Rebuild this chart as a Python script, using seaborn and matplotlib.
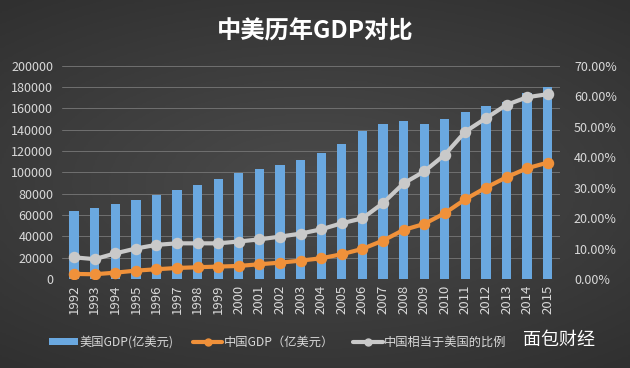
import numpy as np
import pandas as pd
import matplotlib
matplotlib.use("Agg")
import matplotlib.pyplot as plt
import seaborn as sns
from matplotlib.patches import Patch
from matplotlib.lines import Line2D

# =============================
#  Données
# =============================
years = [str(y) for y in range(1992, 2016)]
us_gdp = [63500, 67000, 70700, 74500, 78900, 83600, 88300, 93900, 99800, 103600,
          107000, 112000, 118600, 126800, 139300, 145800, 148000, 145800, 150500,
          157100, 162700, 166500, 174400, 180600]
cn_gdp = [4700, 4400, 5900, 7800, 9100, 10300, 11000, 11600, 12200, 13800,
          15300, 17200, 19400, 23200, 28200, 36000, 46000, 51600, 61700, 74800,
          85700, 95500, 103900, 109200]
ratio = [7.1, 6.5, 8.4, 10.0, 11.2, 11.7, 11.7, 11.7, 12.3, 13.0, 13.9, 14.9,
         16.3, 18.3, 19.9, 24.9, 31.4, 35.3, 40.8, 48.4, 52.8, 57.2, 59.7, 60.7]

df = pd.DataFrame({"year": years, "us": us_gdp, "cn": cn_gdp, "ratio": ratio})

# =============================
#  Style
# =============================
sns.set_style("dark")
plt.rcParams["font.family"] = ["Noto Sans CJK SC", "DejaVu Sans"]
txt = "#d9d9d9"
blue = "#6aa8e0"
orange = "#f0913a"
grey = "#c9c9c9"

fig = plt.figure(figsize=(6.3, 3.68), dpi=100)

# fond en dégradé radial
bg = fig.add_axes([0, 0, 1, 1], zorder=-10)
yy, xx = np.mgrid[-1:1:200j, -1:1:300j]
r = np.sqrt((xx * 0.8) ** 2 + (yy * 1.0) ** 2)
bg.imshow(r, cmap=matplotlib.colors.LinearSegmentedColormap.from_list(
    "bg", ["#4b4b4b", "#303030"]), aspect="auto", extent=[0, 1, 0, 1])
bg.axis("off")

ax = fig.add_axes([0.098, 0.242, 0.791, 0.579])
ax.set_facecolor("none")

sns.barplot(data=df, x="year", y="us", color=blue, width=0.45, saturation=1,
            edgecolor="none", linewidth=0, ax=ax, zorder=2)
sns.pointplot(data=df, x="year", y="cn", color=orange, ax=ax,
              markersize=6, linewidth=3, zorder=4)

ax2 = ax.twinx()
sns.pointplot(data=df, x="year", y="ratio", color=grey, ax=ax2,
              markersize=6, linewidth=3, zorder=5)

ax.set_ylim(0, 200000)
ax.set_yticks(range(0, 200001, 20000))
ax2.set_ylim(0, 70)
ax2.set_yticks(range(0, 71, 10))
ax2.set_yticklabels([f"{v:.2f}%" for v in range(0, 71, 10)])
ax.set_xlim(-0.6, len(years) - 0.4)

ax.grid(axis="y", color="#707070", linewidth=0.7, zorder=0)
ax.grid(axis="x", visible=False)
ax2.grid(False)
for a in (ax, ax2):
    a.set_xlabel("")
    a.set_ylabel("")
    for s in a.spines.values():
        s.set_visible(False)
    a.tick_params(length=0, colors=txt, labelsize=9)
ax.tick_params(axis="x", rotation=90, pad=4, labelsize=9.5)
ax.tick_params(axis="y", pad=6)
ax2.tick_params(axis="y", pad=10)

fig.text(0.5, 0.915, "中美历年GDP对比", ha="center", va="center",
         color="white", fontsize=17.5, fontweight="bold")

# =============================
#  Légende
# =============================
handles = [
    Patch(facecolor=blue, edgecolor="none"),
    Line2D([], [], color=orange, lw=3, marker="o", markersize=5),
    Line2D([], [], color=grey, lw=3, marker="o", markersize=5),
]
labels = ["美国GDP(亿美元)", "中国GDP（亿美元）", "中国相当于美国的比例"]
fig.legend(handles, labels, loc="center left", bbox_to_anchor=(0.06, 0.07),
           ncol=3, frameon=False, fontsize=8.8, labelcolor=txt,
           handlelength=2.4, handleheight=0.5, columnspacing=1.6,
           handletextpad=0.1)

fig.text(0.83, 0.075, "面包财经", ha="left", va="center", color="white",
         fontsize=13)

fig.savefig("out.png", dpi=100)
plt.close()
